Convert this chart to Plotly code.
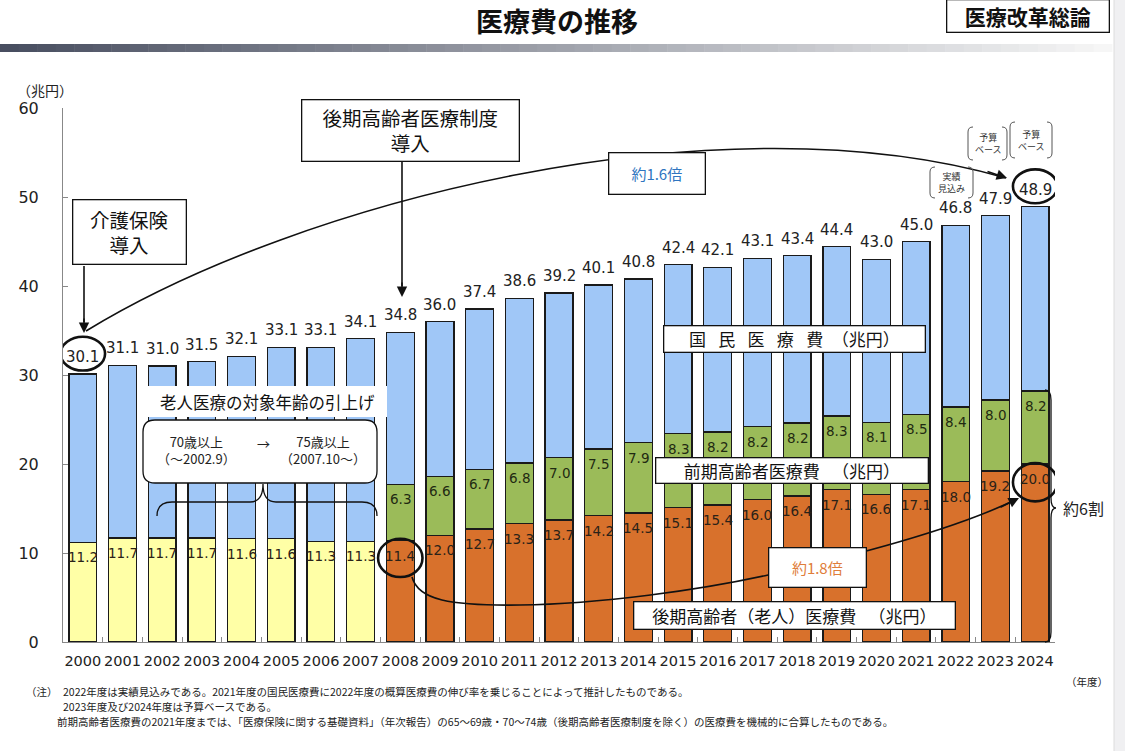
import re
import plotly.graph_objects as go

# ---------------- data ----------------
years = [str(y) for y in range(2000, 2025)]
total_cost = [30.1, 31.1, 31.0, 31.5, 32.1, 33.1, 33.1, 34.1, 34.8, 36.0, 37.4, 38.6, 39.2,
              40.1, 40.8, 42.4, 42.1, 43.1, 43.4, 44.4, 43.0, 45.0, 46.8, 47.9, 48.9]
late_elderly = [11.2, 11.7, 11.7, 11.7, 11.6, 11.6, 11.3, 11.3, 11.4, 12.0, 12.7, 13.3, 13.7,
                14.2, 14.5, 15.1, 15.4, 16.0, 16.4, 17.1, 16.6, 17.1, 18.0, 19.2, 20.0]
early_elderly = [None] * 8 + [6.3, 6.6, 6.7, 6.8, 7.0, 7.5, 7.9, 8.3, 8.2, 8.2, 8.2, 8.3,
                              8.1, 8.5, 8.4, 8.0, 8.2]
y_ticks = [0, 10, 20, 30, 40, 50, 60]
first_late_year = 8  # 2008

other_cost = [round(t - e - (g or 0), 1) for t, e, g in zip(total_cost, late_elderly, early_elderly)]

# ---------------- style ----------------
BLUE = "#A0C7F7"
GREEN = "#9BBB59"
ORANGE = "#D8712C"
YELLOW = "#FFFFA6"
EDGE = "#1a1a1a"
JP = "Noto Sans CJK JP, DejaVu Sans"
NUM = "DejaVu Sans, Noto Sans CJK JP"

W, H = 1125, 751
L, R, T, B = 63, 1055, 108, 642


def px(x):
    return (x - L) / (R - L)


def py(y):
    return (B - y) / (B - T)


def path(s):
    return re.sub(r"(-?[\d.]+),(-?[\d.]+)",
                  lambda m: f"{px(float(m[1])):.5f},{py(float(m[2])):.5f}", s)


late_colors = [YELLOW if i < first_late_year else ORANGE for i in range(len(years))]

fig = go.Figure()
fig.add_trace(go.Bar(x=years, y=late_elderly, marker=dict(color=late_colors, line=dict(color=EDGE, width=1.3)),
                     width=0.7, hoverinfo="skip"))
fig.add_trace(go.Bar(x=years, y=early_elderly, marker=dict(color=GREEN, line=dict(color=EDGE, width=1.3)),
                     width=0.7, hoverinfo="skip"))
fig.add_trace(go.Bar(x=years, y=other_cost, marker=dict(color=BLUE, line=dict(color=EDGE, width=1.3)),
                     width=0.7, hoverinfo="skip"))

ann = []
shapes = []

# value labels
for i, v in enumerate(total_cost):
    ann.append(dict(x=i, y=v, xref="x", yref="y", text=f"{v:.1f}", showarrow=False,
                    yanchor="bottom", yshift=6, font=dict(family=NUM, size=15, color="#222")))
for i, v in enumerate(late_elderly):
    ann.append(dict(x=i, y=v, xref="x", yref="y", text=f"{v:.1f}", showarrow=False,
                    yanchor="top", yshift=-5, font=dict(family=NUM, size=13.5, color="#2a2218")))
for i, g in enumerate(early_elderly):
    if g is None:
        continue
    ann.append(dict(x=i, y=late_elderly[i] + g, xref="x", yref="y", text=f"{g:.1f}", showarrow=False,
                    yanchor="top", yshift=-5, font=dict(family=NUM, size=13.5, color="#1f2a12")))

# circles around key values
for i, yc0, yc1 in [(0, total_cost[0] + 0.4, total_cost[0] + 4.2),
                    (24, total_cost[24] + 0.4, total_cost[24] + 4.2),
                    (8, late_elderly[8] - 4.1, late_elderly[8] + 0.2),
                    (24, late_elderly[24] - 4.2, late_elderly[24] + 0.1)]:
    shapes.append(dict(type="circle", xref="x", yref="y", x0=i - 0.56, x1=i + 0.56, y0=yc0, y1=yc1,
                       line=dict(color="#111", width=2.6), layer="above"))

LINE = dict(color="#111", width=1.6)
# straight arrow shafts
shapes.append(dict(type="path", xref="paper", yref="paper", layer="above", line=LINE,
                   path=path("M 84,266 L 84,322")))
shapes.append(dict(type="path", xref="paper", yref="paper", layer="above", line=LINE,
                   path=path("M 402,162 L 402,286")))
# curve 1.6x
shapes.append(dict(type="path", xref="paper", yref="paper", layer="above", line=LINE,
                   path=path("M 86,331 C 300,200 720,95 1006,178")))
# curve 1.8x
shapes.append(dict(type="path", xref="paper", yref="paper", layer="above", line=LINE,
                   path=path("M 412,577 C 418,600 450,606 520,605 C 600,604 700,590 768,575 "
                             "C 866,553 960,527 1017,499")))
# rounded box
shapes.append(dict(type="path", xref="paper", yref="paper", layer="above",
                   line=dict(color="#111", width=1.3), fillcolor="white",
                   path=path("M 155,420 L 365,420 Q 377,420 377,432 L 377,471 Q 377,483 365,483 "
                             "L 155,483 Q 143,483 143,471 L 143,432 Q 143,420 155,420 Z")))
# brace under rounded box
shapes.append(dict(type="path", xref="paper", yref="paper", layer="above", line=dict(color="#111", width=1.3),
                   path=path("M 157,516 Q 157,502 172,502 L 250,502 Q 263,502 263,484 "
                             "Q 263,502 276,502 L 362,502 Q 377,502 377,516")))
# brace 約6割
shapes.append(dict(type="path", xref="paper", yref="paper", layer="above", line=dict(color="#111", width=1.3),
                   path=path("M 1045,390 Q 1051,390 1051,400 L 1051,498 Q 1051,508 1056,508 "
                             "Q 1051,508 1051,518 L 1051,632 Q 1051,642 1045,642")))


def parens(x0, x1, y0, y1, r=5):
    return [dict(type="path", xref="paper", yref="paper", layer="above", line=dict(color="#555", width=1),
                 path=path(f"M {x0 + r},{y0} Q {x0},{y0} {x0},{y0 + r} L {x0},{y1 - r} Q {x0},{y1} {x0 + r},{y1}")),
            dict(type="path", xref="paper", yref="paper", layer="above", line=dict(color="#555", width=1),
                 path=path(f"M {x1 - r},{y0} Q {x1},{y0} {x1},{y0 + r} L {x1},{y1 - r} Q {x1},{y1} {x1 - r},{y1}"))]


shapes += parens(930, 973, 167, 198)
shapes += parens(968, 1007, 127, 160)
shapes += parens(1010, 1052, 122, 158)

# header gradient bar
n = 60
for k in range(n):
    f = k / (n - 1)
    c0, c1 = (72, 78, 96), (246, 246, 246)
    col = "rgb(%d,%d,%d)" % tuple(round(a + (b - a) * f) for a, b in zip(c0, c1))
    x0 = 0 + 1112 * k / n
    x1 = 0 + 1112 * (k + 1) / n + 0.5
    shapes.append(dict(type="rect", xref="paper", yref="paper", x0=px(x0), x1=px(x1), y0=py(52), y1=py(44),
                       fillcolor=col, line=dict(width=0), layer="above"))
# right edge strip
shapes.append(dict(type="rect", xref="paper", yref="paper", x0=px(1114), x1=px(1126), y0=py(752), y1=py(-1),
                   fillcolor="#f0f0f2", line=dict(width=0), layer="below"))
shapes.append(dict(type="line", xref="paper", yref="paper", x0=px(1114), x1=px(1114), y0=py(752), y1=py(-1),
                   line=dict(color="#dcdcdc", width=1), layer="below"))


def text(cx, cy, s, size, color="#111", family=JP, xanchor="center", **kw):
    d = dict(xref="paper", yref="paper", x=px(cx), y=py(cy), text=s, showarrow=False,
             xanchor=xanchor, yanchor="middle", font=dict(family=family, size=size, color=color))
    d.update(kw)
    return d


def box(cx, cy, w, h, s, size, color="#111", border=True):
    return text(cx, cy, s, size, color, width=w - 2, height=h - 2, bgcolor="white",
                bordercolor="#111" if border else "rgba(0,0,0,0)", borderwidth=1.3 if border else 0,
                borderpad=0, align="center", valign="middle")


def arrow(tx, ty, dx, dy):
    return dict(xref="paper", yref="paper", x=px(tx), y=py(ty), ax=dx, ay=dy, text="", showarrow=True,
                arrowhead=2, arrowsize=1.3, arrowwidth=1.6, arrowcolor="#111", standoff=0)


ann += [
    box(129, 232, 114, 65, "介護保険<br>導入", 19.5),
    box(410, 130, 218, 62, "後期高齢者医療制度<br>導入", 19.5),
    arrow(84, 333, 0, -16),
    arrow(402, 297, 0, -16),
    arrow(1007, 178, -21, -7),
    arrow(1019, 498, -20, 10),
    box(657, 173, 97, 42, "約1.6倍", 15, color="#2E75C0"),
    box(817, 567, 98, 40, "約1.8倍", 15, color="#E07D3A"),
    box(794, 339, 262, 27, "国\u2002 民\u2002 医\u2002 療\u2002 費\u2002（兆円）", 17),
    box(792, 470, 273, 26, "前期高齢者医療費\u2002 （兆円）", 17),
    box(794, 615, 322, 28, "後期高齢者（老人）医療費\u2002 （兆円）", 17),
    box(267, 401, 241, 33, "老人医療の対象年齢の引上げ", 16.5, border=False),
    text(196, 450, "70歳以上<br>（～2002.9）", 13, "#222"),
    text(263, 443, "→", 13, "#222"),
    text(323, 450, "75歳以上<br>（2007.10～）", 13, "#222"),
    text(1083, 508, "約6割", 16, "#222"),
    text(951, 182, "実績<br>見込み", 9, "#333"),
    text(988, 143, "予算<br>ベース", 9, "#333"),
    text(1031, 140, "予算<br>ベース", 9, "#333"),
    text(45, 90, "（兆円）", 14, "#222"),
    text(1087, 681, "（年度）", 10.5, "#222"),
    text(557, 20, "<b>医療費の推移</b>", 27, "#111"),
    box(1028, 16, 163, 33, "<b>医療改革総論</b>", 21),
    text(24, 691, "（注）", 10.5, "#222", xanchor="left"),
    text(61, 691, "2022年度は実績見込みである。2021年度の国民医療費に2022年度の概算医療費の伸び率を乗じることによって推計したものである。",
         10.5, "#222", xanchor="left"),
    text(61, 706, "2023年度及び2024年度は予算ベースである。", 10.5, "#222", xanchor="left"),
    text(55, 721, "前期高齢者医療費の2021年度までは、「医療保険に関する基礎資料」（年次報告）の65～69歳・70～74歳（後期高齢者医療制度を除く）の医療費を機械的に合算したものである。",
         10.5, "#222", xanchor="left"),
]

fig.update_layout(
    width=W, height=H, barmode="stack", showlegend=False,
    margin=dict(l=L, r=W - R, t=T, b=H - B, pad=0, autoexpand=False),
    paper_bgcolor="white", plot_bgcolor="white",
    xaxis=dict(type="category", range=[-0.5, 24.5], showline=True, linecolor="#888", linewidth=1,
               ticks="inside", tickson="boundaries", ticklen=5, tickcolor="#888", tickangle=0,
               tickfont=dict(family=NUM, size=14.5, color="#222"), ticklabelstandoff=6,
               showgrid=False, fixedrange=True, automargin=False),
    yaxis=dict(range=[0, 60], tickvals=y_ticks, showline=True, linecolor="#888", linewidth=1,
               ticks="inside", ticklen=5, tickcolor="#888", tickfont=dict(family=NUM, size=16, color="#222"),
               ticklabelstandoff=20, showgrid=False, zeroline=False, fixedrange=True, automargin=False),
    annotations=ann, shapes=shapes,
)

fig.write_html("out.html", config={"displayModeBar": False},
               post_script="document.body.style.margin='0';document.body.style.overflow='hidden';")
